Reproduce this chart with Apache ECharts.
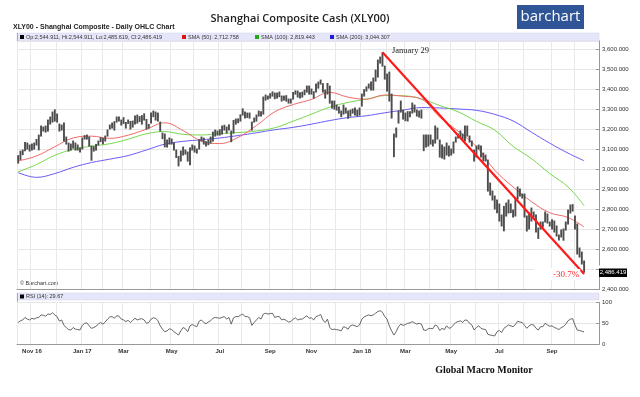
<!DOCTYPE html>
<html>
<head>
<meta charset="utf-8">
<script src="https://cdn.jsdelivr.net/npm/echarts@6/dist/echarts.min.js"></script>
<style>
  html, body { margin: 0; padding: 0; background: #fff; }
  #main { width: 640px; height: 397px; }
</style>
</head>
<body>
<div id="main"></div>
<script>
// months on the axis, and how many 2-session bars each month holds
const months = ['2016-10','2016-11','2016-12','2017-01','2017-02','2017-03','2017-04','2017-05','2017-06',
  '2017-07','2017-08','2017-09','2017-10','2017-11','2017-12','2018-01','2018-02','2018-03','2018-04',
  '2018-05','2018-06','2018-07','2018-08','2018-09','2018-10'];
const monthBins = [6,11,11,9,9,12,9,10,11,10,12,10,8,11,11,11,8,11,9,11,10,11,12,10,5];
const monthTickLabels = ['','Nov 16','','Jan 17','','Mar','','May','','Jul','','Sep','','Nov','','Jan 18',
  '','Mar','','May','','Jul','','Sep',''];
const padBins = 6;

// price range of each bar (low / high)
const lows = [
  3030,3048,3072,3092,3100,3090,
  3095,3100,3120,3096,3165,3190,3185,3190,3225,3235,3240,
  3235,3190,3195,3140,3125,3090,3095,3105,3095,3095,3085,
  3100,3150,3150,3115,3044,3090,3095,3120,3137,
  3126,3140,3165,3200,3205,3195,3235,3240,3220,
  3228,3205,3228,3200,3210,3225,3230,3238,3225,3245,3200,3205,
  3230,3262,3245,3240,3190,3152,3111,3110,3125,
  3125,3095,3058,3016,3040,3070,3075,3040,3022,3095,
  3085,3080,3100,3140,3125,3115,3122,3130,3140,3165,3170,
  3170,3175,3195,3180,3195,3137,3180,3225,3232,3240,
  3270,3255,3258,3255,3195,3235,3240,3265,3265,3275,3345,3350,
  3355,3365,3352,3355,3362,3340,3345,3340,3330,3330,
  3350,3375,3360,3355,3360,3372,3385,3375,
  3375,3355,3385,3405,3425,3385,3355,3375,3330,3305,3300,
  3295,3280,3262,3275,3280,3254,3265,3280,3270,3265,3270,
  3315,3365,3390,3405,3395,3395,3440,3460,3530,3515,3450,
  3390,3340,3255,3062,3160,3230,3285,3250,
  3242,3240,3262,3280,3285,3265,3260,3255,3092,3110,3115,
  3125,3115,3130,3150,3060,3055,3050,3070,3065,
  3070,3080,3135,3155,3160,3150,3140,3165,3135,3115,3040,
  3060,3100,3060,3040,3040,2890,2870,2845,2800,2782,
  2740,2715,2691,2765,2780,2782,2760,2765,2850,2865,2855,
  2760,2690,2700,2740,2760,2685,2653,2700,2710,2735,2730,2715,
  2700,2685,2665,2645,2660,2644,2695,2725,2780,2790,
  2700,2575,2560,2525,2485
];
const highs = [
  3072,3094,3100,3138,3135,3125,
  3130,3135,3153,3175,3220,3215,3220,3250,3265,3290,3301,
  3280,3230,3225,3235,3165,3135,3130,3145,3135,3125,3110,
  3160,3172,3175,3165,3120,3117,3128,3145,3162,
  3158,3170,3200,3225,3235,3242,3265,3265,3250,
  3262,3238,3250,3243,3245,3270,3275,3267,3272,3281,3253,3228,
  3285,3295,3290,3285,3240,3185,3180,3150,3160,
  3155,3135,3100,3068,3095,3115,3100,3090,3110,3125,
  3120,3105,3152,3165,3160,3142,3150,3165,3190,3200,3195,
  3202,3220,3224,3215,3226,3195,3248,3255,3256,3276,
  3306,3290,3285,3285,3240,3260,3275,3295,3292,3365,3375,3370,
  3382,3391,3385,3385,3390,3370,3370,3372,3355,3355,
  3388,3396,3395,3387,3390,3400,3420,3420,
  3405,3392,3430,3440,3450,3432,3400,3433,3420,3345,3345,
  3325,3315,3295,3325,3310,3295,3300,3305,3310,3300,3310,
  3380,3402,3416,3430,3440,3460,3500,3550,3565,3587,3520,
  3480,3490,3380,3180,3210,3295,3345,3300,
  3285,3292,3292,3335,3325,3300,3295,3300,3175,3175,3175,
  3175,3150,3220,3210,3150,3125,3115,3135,3120,
  3105,3140,3165,3180,3195,3180,3220,3220,3170,3145,3100,
  3120,3125,3120,3085,3075,3050,2935,2895,2870,2850,
  2830,2775,2818,2835,2850,2830,2800,2860,2915,2905,2880,
  2880,2770,2785,2810,2790,2775,2710,2740,2740,2790,2780,2740,
  2752,2745,2720,2675,2700,2705,2740,2800,2825,2827,
  2770,2730,2610,2590,2545
];

// RSI (14) for the same bars
const rsi = [
  52,56,58,64,60,58,
  62,60,63,64,70,69,67,72,71,75,70,
  66,55,58,45,40,35,34,40,36,35,34,
  45,50,51,44,38,40,43,48,52,
  48,53,60,65,66,62,68,67,60,
  58,54,57,52,57,62,58,60,61,58,50,52,
  60,63,62,56,44,36,30,32,37,
  35,30,26,22,32,40,37,30,44,47,
  44,42,55,58,52,49,53,56,62,64,63,
  62,64,66,60,64,48,63,66,66,69,
  72,66,66,63,45,52,58,64,60,72,74,72,
  73,74,64,66,66,58,60,57,53,54,
  60,63,58,60,60,64,68,62,
  63,58,66,68,71,58,52,60,40,35,36,
  35,34,32,42,40,36,44,46,44,42,46,
  60,65,68,70,68,70,74,78,80,76,66,
  60,44,32,22,30,42,48,45,
  47,50,51,54,51,48,50,48,34,33,37,
  38,37,46,43,33,38,35,44,38,
  40,46,52,54,56,52,58,57,50,46,34,
  40,44,38,36,35,24,22,21,20,30,
  33,28,38,42,46,44,42,47,55,53,52,
  45,38,44,47,46,38,34,42,42,50,46,43,
  44,40,38,35,40,42,48,56,60,61,
  46,34,33,31,29.7
];

// moving averages, one reading every smaStep bars (last one at the final bar)
const smaStep = 8;
const sma50 = [3043,3068,3114,3158,3167,3156,3172,3202,3234,3195,3143,3130,3161,3220,3289,3325,
  3351,3386,3362,3352,3373,3367,3352,3262,3192,3114,2997,2913,2840,2784,2760,2713];
const sma100 = [2988,3025,3071,3101,3117,3129,3152,3179,3190,3176,3173,3180,3185,3193,3209,3242,
  3277,3312,3336,3352,3370,3369,3354,3320,3289,3241,3197,3116,3055,2980,2913,2819];
const sma200 = [2985,2961,2980,3011,3035,3052,3070,3098,3127,3141,3149,3158,3170,3184,3199,3211,
  3227,3245,3260,3269,3284,3297,3310,3308,3303,3296,3276,3243,3187,3132,3082,3044];

// drawn trend: Jan 29 high to the last low
const trendDates = ['2018-01/9', '2018-10/4'];
const trendValues = [3587, 2478];

// build the category axis
const categories = [];
const labelAt = {};
const monthStarts = new Set();
months.forEach((m, mi) => {
  monthStarts.add(categories.length);
  labelAt[categories.length] = monthTickLabels[mi];
  for (let k = 0; k < monthBins[mi]; k++) categories.push(m + '/' + k);
});
for (let k = 0; k < padBins; k++) categories.push('pad/' + k);
const lastBin = lows.length - 1;

const smaData = arr => arr.map((v, k) => [Math.min(k * smaStep, lastBin), v]);
const fmtPrice = v => v % 100 === 0 ? v.toLocaleString('en-US', { minimumFractionDigits: 3 }) : '';

const gridLeft = 17, gridRight = 41;
const plotW = 640 - gridLeft - gridRight;
const sans = '"Liberation Sans", Arial, sans-serif';
const serif = '"Liberation Serif", "Times New Roman", serif';

const chart = echarts.init(document.getElementById('main'));

chart.setOption({
  animation: false,
  backgroundColor: '#fff',
  grid: [
    { left: gridLeft, right: gridRight, top: 41, height: 248.5, outerBoundsMode: 'none' },
    { left: gridLeft, right: gridRight, top: 302.3, height: 42, outerBoundsMode: 'none' }
  ],
  xAxis: [
    {
      type: 'category', gridIndex: 0, data: categories, boundaryGap: true,
      axisLine: { lineStyle: { color: '#999' } },
      axisTick: { show: false }, axisLabel: { show: false },
      splitLine: { show: true, interval: i => monthStarts.has(i), lineStyle: { color: '#e9e9e9' } }
    },
    {
      type: 'category', gridIndex: 1, data: categories, boundaryGap: true,
      axisLine: { lineStyle: { color: '#999' } },
      axisTick: { show: false },
      axisLabel: {
        interval: i => !!labelAt[i],
        formatter: (v, i) => labelAt[i] || '',
        fontSize: 6, fontWeight: 'bold', color: '#333', fontFamily: sans, margin: 4
      },
      splitLine: { show: true, interval: i => monthStarts.has(i), lineStyle: { color: '#e9e9e9' } }
    }
  ],
  yAxis: [
    {
      type: 'value', gridIndex: 0, position: 'right', min: 2400, max: 3643, interval: 100,
      axisLine: { show: true, lineStyle: { color: '#999' } },
      axisTick: { show: true, inside: true, length: 3, lineStyle: { color: '#999' } },
      axisLabel: { formatter: fmtPrice, showMaxLabel: false, fontSize: 6, color: '#333', fontFamily: sans, margin: 3 },
      splitLine: { lineStyle: { color: '#e6e6e6' } }
    },
    {
      type: 'value', gridIndex: 1, position: 'right', min: 0, max: 100, interval: 50,
      axisLine: { show: true, lineStyle: { color: '#999' } },
      axisTick: { show: true, inside: true, length: 3, lineStyle: { color: '#999' } },
      axisLabel: { fontSize: 6, color: '#333', fontFamily: sans, margin: 3 },
      splitLine: { lineStyle: { color: '#e6e6e6' } }
    }
  ],
  series: [
    {
      name: 'SMA 200', type: 'line', xAxisIndex: 0, yAxisIndex: 0, data: smaData(sma200),
      smooth: 0.4, showSymbol: false, lineStyle: { color: '#6a5cf8', width: 1 }, z: 3
    },
    {
      name: 'SMA 100', type: 'line', xAxisIndex: 0, yAxisIndex: 0, data: smaData(sma100),
      smooth: 0.4, showSymbol: false, lineStyle: { color: '#78d84c', width: 1 }, z: 3
    },
    {
      name: 'SMA 50', type: 'line', xAxisIndex: 0, yAxisIndex: 0, data: smaData(sma50),
      smooth: 0.4, showSymbol: false, lineStyle: { color: '#f26a6a', width: 1 }, z: 3
    },
    {
      name: 'OHLC', type: 'custom', xAxisIndex: 0, yAxisIndex: 0,
      data: lows.map((lo, i) => [i, lo, highs[i]]),
      encode: { x: 0, y: [1, 2] },
      renderItem: (params, api) => {
        const p1 = api.coord([api.value(0), api.value(1)]);
        const p2 = api.coord([api.value(0), api.value(2)]);
        return {
          type: 'line',
          shape: { x1: p1[0], y1: p1[1], x2: p2[0], y2: p2[1] },
          style: { stroke: '#4d4d4d', lineWidth: 1.9 }
        };
      },
      z: 4
    },
    {
      name: 'Trend', type: 'line', xAxisIndex: 0, yAxisIndex: 0,
      data: trendDates.map((d, i) => [categories.indexOf(d), trendValues[i]]),
      showSymbol: false, lineStyle: { color: '#ff1a1a', width: 2.2 }, z: 5
    },
    {
      name: 'RSI', type: 'line', xAxisIndex: 1, yAxisIndex: 1, data: rsi,
      showSymbol: false, lineStyle: { color: '#555', width: 0.9 }
    }
  ],
  graphic: [
    // header
    { type: 'text', x: 13, y: 27, style: { text: 'XLY00 - Shanghai Composite - Daily OHLC Chart', font: 'bold 7px ' + sans, fill: '#222', verticalAlign: 'middle' } },
    { type: 'text', x: 300, y: 19, style: { text: 'Shanghai Composite Cash (XLY00)', font: '600 11px "Open Sans", sans-serif', fill: '#222', align: 'center', verticalAlign: 'middle' } },
    { type: 'rect', shape: { x: 517, y: 5, width: 67, height: 24 }, style: { fill: '#2f5597' } },
    { type: 'text', x: 550.5, y: 16.5, style: { text: 'barchart', font: '15px "Open Sans", sans-serif', fill: '#fff', align: 'center', verticalAlign: 'middle' } },
    // price panel band and legend
    { type: 'rect', shape: { x: gridLeft, y: 33, width: plotW, height: 8 }, style: { fill: '#e6e6fa', stroke: '#d0d0e8', lineWidth: 0.5 } },
    { type: 'rect', shape: { x: 20, y: 35, width: 4, height: 4 }, style: { fill: '#000' } },
    { type: 'text', x: 26, y: 37.2, style: { text: 'Op:2,544.911, Hi:2,544.911, Lo:2,485.619, Cl:2,486.419', font: '5.5px ' + sans, fill: '#333', verticalAlign: 'middle' } },
    { type: 'rect', shape: { x: 182, y: 35, width: 4, height: 4 }, style: { fill: '#e01010' } },
    { type: 'text', x: 188, y: 37.2, style: { text: 'SMA (50): 2,712.758', font: '5.5px ' + sans, fill: '#333', verticalAlign: 'middle' } },
    { type: 'rect', shape: { x: 255, y: 35, width: 4, height: 4 }, style: { fill: '#22aa10' } },
    { type: 'text', x: 261, y: 37.2, style: { text: 'SMA (100): 2,819.443', font: '5.5px ' + sans, fill: '#333', verticalAlign: 'middle' } },
    { type: 'rect', shape: { x: 330, y: 35, width: 4, height: 4 }, style: { fill: '#2020d0' } },
    { type: 'text', x: 336, y: 37.2, style: { text: 'SMA (200): 3,044.307', font: '5.5px ' + sans, fill: '#333', verticalAlign: 'middle' } },
    { type: 'line', shape: { x1: gridLeft + 0.5, y1: 33, x2: gridLeft + 0.5, y2: 289.5 }, style: { stroke: '#aaa', lineWidth: 1 } },
    { type: 'text', x: 20, y: 283, style: { text: '© Barchart.com', font: '5.5px ' + sans, fill: '#333', verticalAlign: 'middle' } },
    // annotations
    { type: 'text', x: 392, y: 51, z: 50, style: { text: 'January 29', font: '8.5px ' + serif, fill: '#222', verticalAlign: 'middle' } },
    { type: 'rect', z: 49, shape: { x: 534, y: 268, width: 36, height: 12 }, style: { fill: '#fff' } },
    { type: 'text', x: 552, y: 274.5, z: 50, style: { text: '-30.7%', font: '9px ' + serif, fill: '#ff2a2a', verticalAlign: 'middle', backgroundColor: '#fff', padding: [1, 1] } },
    // last price tag
    { type: 'rect', z: 50, shape: { x: 599, y: 265.5, width: 30, height: 11 }, style: { fill: '#fff' } },
    { type: 'rect', z: 51, shape: { x: 599, y: 268.5, width: 28, height: 8.5 }, style: { fill: '#000' } },
    { type: 'text', x: 613, y: 272.8, z: 52, style: { text: '2,486.419', font: '6px ' + sans, fill: '#fff', align: 'center', verticalAlign: 'middle' } },
    // RSI band
    { type: 'rect', shape: { x: gridLeft, y: 293, width: plotW, height: 7 }, style: { fill: '#e6e6fa', stroke: '#d0d0e8', lineWidth: 0.5 } },
    { type: 'rect', shape: { x: 20, y: 294.5, width: 4, height: 4 }, style: { fill: '#000' } },
    { type: 'text', x: 26, y: 296.6, style: { text: 'RSI (14): 29.67', font: '5.5px ' + sans, fill: '#333', verticalAlign: 'middle' } },
    { type: 'line', shape: { x1: gridLeft + 0.5, y1: 293, x2: gridLeft + 0.5, y2: 344.3 }, style: { stroke: '#aaa', lineWidth: 1 } },
    // footer
    { type: 'text', x: 484, y: 370, style: { text: 'Global Macro Monitor', font: 'bold 10px ' + serif, fill: '#111', align: 'center', verticalAlign: 'middle' } }
  ]
});
</script>
</body>
</html>
